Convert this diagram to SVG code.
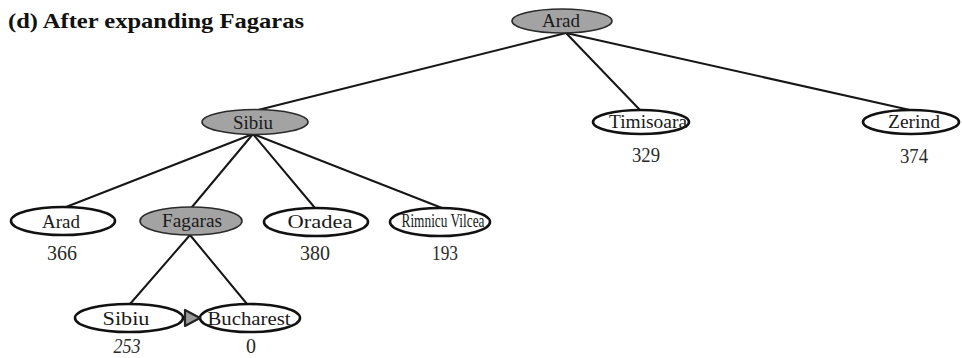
<svg xmlns="http://www.w3.org/2000/svg" width="962" height="358" viewBox="0 0 962 358">
  <style>
    .edge { stroke: #161616; stroke-width: 2; fill: none; stroke-linecap: round; }
    .open { fill: #ffffff; stroke: #111111; stroke-width: 2.6; }
    .done { fill: #a3a3a3; stroke: #2a2a2a; stroke-width: 1.6; }
    .lbl { font-family: "Liberation Serif", "Times New Roman", serif; font-size: 18px; fill: #1a1a1a; text-anchor: middle; }
    .num { font-family: "Liberation Serif", "Times New Roman", serif; font-size: 20px; fill: #2a2a2a; text-anchor: middle; }
    .title { font-family: "Liberation Serif", "Times New Roman", serif; font-size: 22px; font-weight: bold; fill: #111111; }
  </style>
  <rect width="962" height="358" fill="#ffffff"/>

  <text class="title" x="8" y="28" textLength="296" lengthAdjust="spacingAndGlyphs">(d) After expanding Fagaras</text>

  <g id="connectors">
    <line class="edge" x1="566" y1="33" x2="258" y2="110"/>
    <line class="edge" x1="566" y1="33" x2="640" y2="110"/>
    <line class="edge" x1="566" y1="33" x2="910" y2="110"/>
    <line class="edge" x1="253" y1="134" x2="66" y2="207"/>
    <line class="edge" x1="253" y1="134" x2="192" y2="207"/>
    <line class="edge" x1="253" y1="134" x2="315" y2="208"/>
    <line class="edge" x1="253" y1="134" x2="442" y2="208"/>
    <line class="edge" x1="190" y1="235" x2="130" y2="304"/>
    <line class="edge" x1="190" y1="235" x2="247" y2="304"/>
  </g>

  <g id="n-arad-root">
    <ellipse class="done" cx="562" cy="21" rx="50" ry="12"/>
    <text class="lbl" x="561" y="27" font-size="16" textLength="38" lengthAdjust="spacingAndGlyphs">Arad</text>
  </g>

  <g id="n-sibiu">
    <ellipse class="done" cx="255" cy="122" rx="53" ry="12.5"/>
    <text class="lbl" x="253" y="129" textLength="40" lengthAdjust="spacingAndGlyphs">Sibiu</text>
  </g>

  <g id="n-timisoara">
    <ellipse class="open" cx="641" cy="122" rx="48" ry="12"/>
    <text class="lbl" x="648" y="128" textLength="78" lengthAdjust="spacingAndGlyphs">Timisoara</text>
    <text class="num" x="646" y="162" textLength="28" lengthAdjust="spacingAndGlyphs">329</text>
  </g>

  <g id="n-zerind">
    <ellipse class="open" cx="911" cy="122" rx="48" ry="12"/>
    <text class="lbl" x="914" y="128" textLength="52" lengthAdjust="spacingAndGlyphs">Zerind</text>
    <text class="num" x="914" y="163" textLength="28" lengthAdjust="spacingAndGlyphs">374</text>
  </g>

  <g id="n-arad">
    <ellipse class="open" cx="63" cy="221" rx="52" ry="14"/>
    <text class="lbl" x="61" y="228" textLength="38" lengthAdjust="spacingAndGlyphs">Arad</text>
    <text class="num" x="62" y="260" textLength="30" lengthAdjust="spacingAndGlyphs">366</text>
  </g>

  <g id="n-fagaras">
    <ellipse class="done" cx="191" cy="221" rx="51" ry="14"/>
    <text class="lbl" x="192" y="227" font-size="16" textLength="60" lengthAdjust="spacingAndGlyphs">Fagaras</text>
  </g>

  <g id="n-oradea">
    <ellipse class="open" cx="316" cy="222" rx="52" ry="14"/>
    <text class="lbl" x="320" y="228" textLength="65" lengthAdjust="spacingAndGlyphs">Oradea</text>
    <text class="num" x="315" y="260" textLength="30" lengthAdjust="spacingAndGlyphs">380</text>
  </g>

  <g id="n-rimnicu">
    <ellipse class="open" cx="440" cy="222" rx="50" ry="14"/>
    <text class="lbl" x="443" y="227" font-size="13" textLength="83" lengthAdjust="spacingAndGlyphs">Rimnicu Vilcea</text>
    <text class="num" x="445" y="260" textLength="26" lengthAdjust="spacingAndGlyphs">193</text>
  </g>

  <g id="n-sibiu-leaf">
    <ellipse class="open" cx="129" cy="318" rx="54" ry="14"/>
    <text class="lbl" x="126" y="325" textLength="47" lengthAdjust="spacingAndGlyphs">Sibiu</text>
    <text class="num" x="127" y="353" font-size="17" font-style="italic" textLength="27" lengthAdjust="spacingAndGlyphs">253</text>
  </g>

  <g id="n-bucharest">
    <ellipse class="open" cx="250" cy="318" rx="50" ry="14"/>
    <text class="lbl" x="249" y="325" textLength="83" lengthAdjust="spacingAndGlyphs">Bucharest</text>
    <text class="num" x="251" y="353" font-size="17">0</text>
  </g>

  <g id="goal-mark">
    <polygon points="185,310 185,326 200,318" fill="#9a9a9a" stroke="#222222" stroke-width="2.2" stroke-linejoin="round"/>
  </g>
</svg>
